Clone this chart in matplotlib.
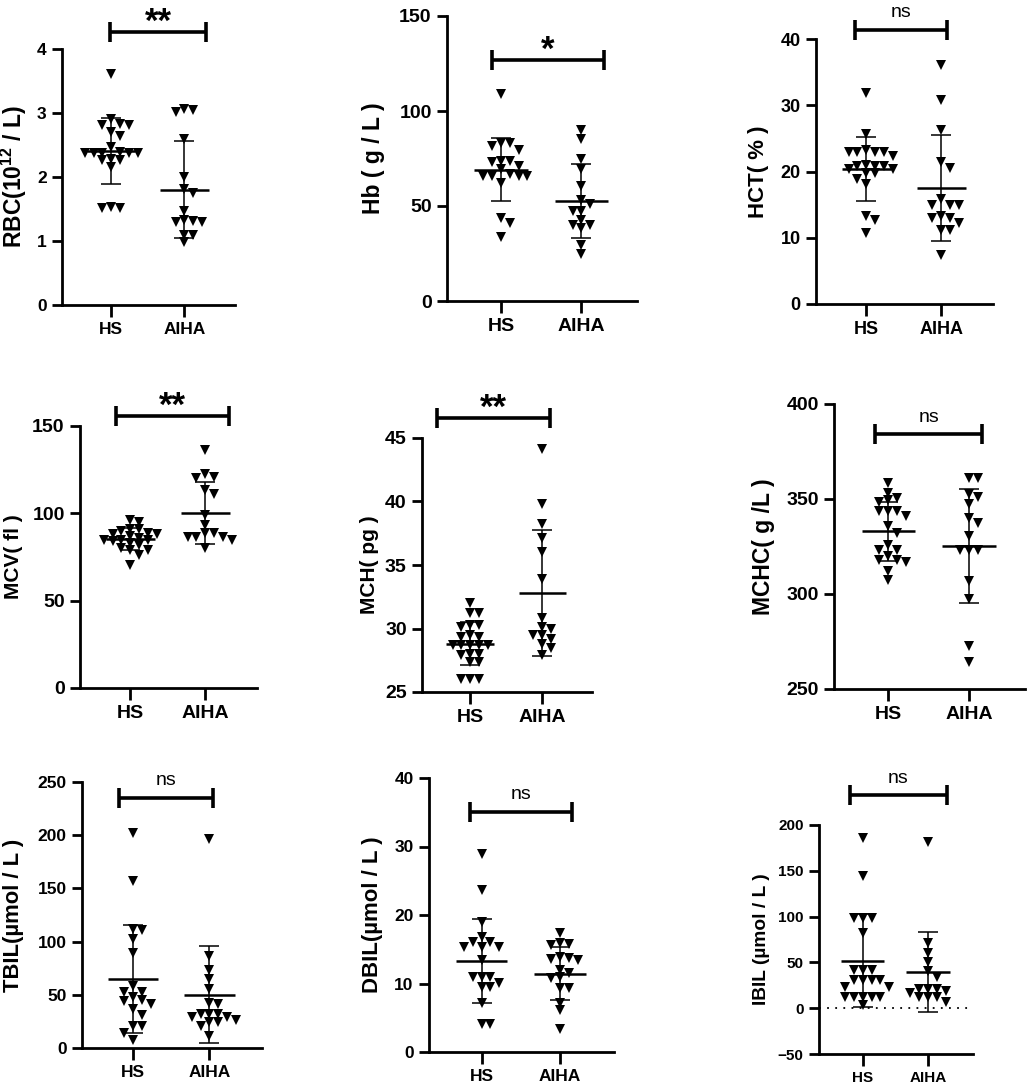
import numpy as np
import matplotlib.pyplot as plt

plt.rcParams['font.family'] = ['Liberation Sans', 'DejaVu Sans']
plt.rcParams['font.weight'] = 'bold'
plt.rcParams['mathtext.fontset'] = 'custom'
plt.rcParams['mathtext.rm'] = 'Liberation Sans:bold'
plt.rcParams['mathtext.it'] = 'Liberation Sans:bold'
plt.rcParams['mathtext.bf'] = 'Liberation Sans:bold'

groups = ['HS', 'AIHA']

# values
rbc_hs = [3.61, 2.91, 2.82, 2.82, 2.83, 2.64, 2.70, 2.47, 2.38, 2.38, 2.37,
          2.39, 2.38, 2.37, 2.27, 2.27, 2.28, 2.16, 1.51, 1.51, 1.53]
rbc_aiha = [3.07, 3.02, 3.05, 2.59, 2.00, 1.81, 1.75, 1.47, 1.29, 1.32, 1.33,
            1.30, 1.10, 1.10, 0.99]
hb_hs = [109.2, 82.9, 82.9, 81.7, 79.4, 73.8, 73.8, 73.2, 71.1, 69.4, 67.1,
         65.9, 65.9, 65.9, 65.9, 62.2, 43.5, 40.8, 33.8]
hb_aiha = [89.9, 85.5, 74.5, 69.7, 60.5, 53.1, 51.0, 47.5, 47.5, 42.6, 40.0,
           40.0, 38.2, 29.4, 24.7]
hct_hs = [31.8, 25.7, 23.0, 23.0, 23.0, 23.2, 22.9, 22.3, 20.9, 20.9, 21.0,
          20.8, 20.4, 20.4, 19.8, 19.8, 18.8, 18.1, 13.3, 12.7, 10.7]
hct_aiha = [36.1, 30.8, 26.3, 21.5, 20.5, 15.8, 15.0, 15.0, 15.0, 13.3, 13.0,
            13.0, 12.3, 11.2, 11.2, 7.4]
mcv_hs = [96, 95, 91, 91, 90, 89, 88, 88, 87, 86, 85, 85, 85, 84, 83, 82, 80,
          79, 79, 76, 70.5]
mcv_aiha = [136.3, 122.5, 121.0, 120.0, 113.4, 111.1, 99.1, 93.4, 88.6, 88.6,
            86.3, 86.3, 86.3, 84.8, 80.0]
mch_hs = [32.0, 31.2, 31.2, 30.3, 30.3, 30.1, 29.5, 29.3, 29.3, 28.7, 28.7,
          28.7, 28.7, 28.7, 28.0, 28.0, 27.9, 27.4, 27.4, 26.05, 26.05, 26.05]
mch_aiha = [44.1, 39.8, 38.2, 37.1, 36.0, 33.9, 30.8, 30.1, 30.0, 29.5, 29.5,
            29.2, 28.8, 28.5, 27.9]
mchc_hs = [358.4, 353.2, 350.5, 349.3, 348.4, 343.5, 343.5, 343.5, 340.9,
           335.6, 332.1, 326.0, 323.3, 323.3, 319.8, 317.7, 317.7, 316.7,
           311.9, 307.5]
mchc_aiha = [361, 361, 352.8, 351, 347.5, 340, 337.4, 330.4, 323.3, 323.3,
             323.3, 306.7, 297.4, 272.5, 264]
tbil_hs = [202, 156.6, 110.6, 111.8, 102.4, 89.3, 58, 52.3, 52.3, 47.9, 45.4,
           43.9, 41.7, 36.7, 31.3, 20.4, 20.4, 14.1, 7.8]
tbil_aiha = [196.7, 86.8, 73.6, 64.8, 55.5, 42.3, 41.0, 32.3, 32.3, 32.3, 26,
             29.1, 29.1, 24.1, 24.1, 21, 11]
dbil_hs = [28.9, 23.7, 19.0, 16.8, 16.0, 16.0, 15.3, 15.3, 15.3, 13.4, 10.9,
           10.9, 10.9, 10.1, 9.5, 9.5, 7.2, 4.1, 4.1]
dbil_aiha = [17.3, 15.9, 15.7, 15.6, 13.8, 13.7, 13.6, 13.5, 12.0, 11.5, 10.9,
             10.8, 9.4, 9.3, 7.1, 6.1, 3.4]
ibil_hs = [185.4, 144.3, 98.1, 98.1, 98.1, 81.7, 41.7, 41.7, 41.7, 30.8, 30.8,
           30.8, 30.8, 23.5, 23.5, 12.6, 12.6, 12.6, 12.6, 12.6, 3.5]
ibil_aiha = [181.8, 70.8, 59.9, 50.8, 40.6, 33.7, 20.6, 20.6, 20.6, 19.1, 16.2,
             12.6, 12.6, 12.6, 7.1]

# mean and SD as drawn (HS, AIHA)
rbc_mean, rbc_sd = [2.41, 1.80], [0.515, 0.76]
hb_mean, hb_sd = [69.2, 52.6], [16.8, 19.25]
hct_mean, hct_sd = [20.4, 17.5], [4.8, 8.0]
mcv_mean, mcv_sd = [85.2, 100.4], [6.4, 17.7]
mch_mean, mch_sd = [28.8, 32.8], [1.7, 4.98]
mchc_mean, mchc_sd = [333, 325.4], [15.6, 29.9]
tbil_mean, tbil_sd = [64.8, 50.1], [51.0, 45.5]
dbil_mean, dbil_sd = [13.3, 11.45], [6.1, 3.9]
ibil_mean, ibil_sd = [51.9, 39.2], [50.7, 43.7]

labels = [r'RBC(10$^{12}$ / L)', 'Hb ( g / L )', 'HCT( % )',
          'MCV( fl )', 'MCH( pg )', 'MCHC( g /L )',
          'TBIL(µmol / L )', 'DBIL(µmol / L )', 'IBIL (µmol / L )']
signif = ['**', '*', 'ns', '**', '**', 'ns', 'ns', 'ns', 'ns']
series = [(rbc_hs, rbc_aiha), (hb_hs, hb_aiha), (hct_hs, hct_aiha),
          (mcv_hs, mcv_aiha), (mch_hs, mch_aiha), (mchc_hs, mchc_aiha),
          (tbil_hs, tbil_aiha), (dbil_hs, dbil_aiha), (ibil_hs, ibil_aiha)]
stats = [(rbc_mean, rbc_sd), (hb_mean, hb_sd), (hct_mean, hct_sd),
         (mcv_mean, mcv_sd), (mch_mean, mch_sd), (mchc_mean, mchc_sd),
         (tbil_mean, tbil_sd), (dbil_mean, dbil_sd), (ibil_mean, ibil_sd)]
yticks = [[0, 1, 2, 3, 4], [0, 50, 100, 150], [0, 10, 20, 30, 40],
          [0, 50, 100, 150], [25, 30, 35, 40, 45], [250, 300, 350, 400],
          [0, 50, 100, 150, 200, 250], [0, 10, 20, 30, 40],
          [-50, 0, 50, 100, 150, 200]]

# layout: axes box in pixels (left, top, right, bottom), ylabel right edge px,
# bracket (x0, x1, y) in data units, tick font size, label font size
layout = [
    dict(box=(62, 49, 235, 305), lab=29, br=(-0.01, 1.30, 4.27), fs=12.5, lfs=16.5),
    dict(box=(447, 16, 637, 301), lab=385, br=(-0.11, 1.275, 126.7), fs=14, lfs=16.5),
    dict(box=(816, 39, 993, 304), lab=769, br=(-0.15, 1.08, 41.4), fs=13, lfs=16),
    dict(box=(80, 426, 257, 688), lab=23, br=(-0.19, 1.31, 155.9), fs=14, lfs=15),
    dict(box=(422, 438, 592, 692), lab=379, br=(-0.46, 1.11, 46.6), fs=14, lfs=15),
    dict(box=(834, 404, 1025, 689), lab=775, br=(-0.16, 1.157, 384.2), fs=14, lfs=16.5),
    dict(box=(82, 782, 262, 1048), lab=24, br=(-0.19, 1.045, 235), fs=12.5, lfs=15.8),
    dict(box=(429, 778, 614, 1052), lab=383, br=(-0.15, 1.157, 35.1), fs=12.5, lfs=16),
    dict(box=(819, 825, 973, 1054), lab=770, br=(-0.20, 1.29, 232.7), fs=11, lfs=13.8),
]

W, H = 1028, 1091
XLIM = (-0.67, 1.69)


def swarm_offsets(ax, vals, step_px=8.8, h_px=6.8):
    vals = np.asarray(vals, float)
    ys = ax.transData.transform(np.column_stack([np.zeros(len(vals)), vals]))[:, 1]
    p = ax.transData.transform([[0, 0], [1, 0]])
    ppu = p[1, 0] - p[0, 0]
    offs = np.zeros(len(vals))
    placed = []
    for i in np.argsort(-ys, kind='stable'):
        for k in range(40):
            c = 0 if k == 0 else ((k + 1) // 2) * (1 if k % 2 else -1)
            if all(abs(c - px) > 0.9 or abs(ys[i] - py) > h_px for px, py in placed):
                break
        offs[i] = c
        placed.append((c, ys[i]))
    return offs * step_px / ppu


fig = plt.figure(figsize=(W / 100, H / 100), dpi=100)

for k in range(9):
    L = layout[k]
    l, t, r, b = L['box']
    ax = fig.add_axes([l / W, 1 - b / H, (r - l) / W, (b - t) / H])
    fs = L['fs']
    ax.set_xlim(*XLIM)
    ax.set_ylim(yticks[k][0], yticks[k][-1])
    ax.set_yticks(yticks[k])
    ax.set_xticks([0, 1])
    ax.set_xticklabels(groups)
    for s in ['top', 'right']:
        ax.spines[s].set_visible(False)
    for s in ['left', 'bottom']:
        ax.spines[s].set_linewidth(2)
    ax.tick_params(axis='y', width=2, length=7, labelsize=fs, pad=4)
    ax.tick_params(axis='x', width=2, length=8.5, labelsize=fs, pad=4)
    for lab in ax.get_xticklabels() + ax.get_yticklabels():
        lab.set_fontweight('bold')

    if k == 8:
        ax.axhline(0, color='k', lw=1.3, ls=(0, (1, 3.5)), zorder=1)

    means, sds = stats[k]
    for g, vals in enumerate(series[k]):
        xo = g + swarm_offsets(ax, vals)
        ax.plot(xo, vals, 'v', color='k', ms=6.5, mew=0, zorder=3)
        m, s = means[g], sds[g]
        ax.plot([g - 0.33, g + 0.33], [m, m], color='k', lw=1.8, zorder=4,
                solid_capstyle='butt')
        ax.errorbar(g, m, yerr=s, fmt='none', ecolor='k', elinewidth=1.1,
                    capsize=7.5, capthick=1.1, zorder=4)

    x0, x1, yb = L['br']
    ax.plot([x0, x1], [yb, yb], color='k', lw=2.6, marker='|', ms=15, mew=2.6,
            clip_on=False, solid_capstyle='butt')
    if signif[k] == 'ns':
        ax.annotate('ns', xy=((x0 + x1) / 2, yb), xytext=(0, 9),
                    textcoords='offset points', ha='center', va='baseline',
                    fontsize=14, fontweight='normal', annotation_clip=False)
    else:
        ax.annotate(signif[k], xy=((x0 + x1) / 2, yb), xytext=(0, 0),
                    textcoords='offset points', ha='center', va='baseline',
                    fontsize=25, fontweight='bold', annotation_clip=False)

    ax.set_ylabel(labels[k], fontsize=L['lfs'], fontweight='bold')
    ax.yaxis.set_label_coords((L['lab'] - l) / (r - l), 0.5)

fig.savefig('out.png', dpi=100)
